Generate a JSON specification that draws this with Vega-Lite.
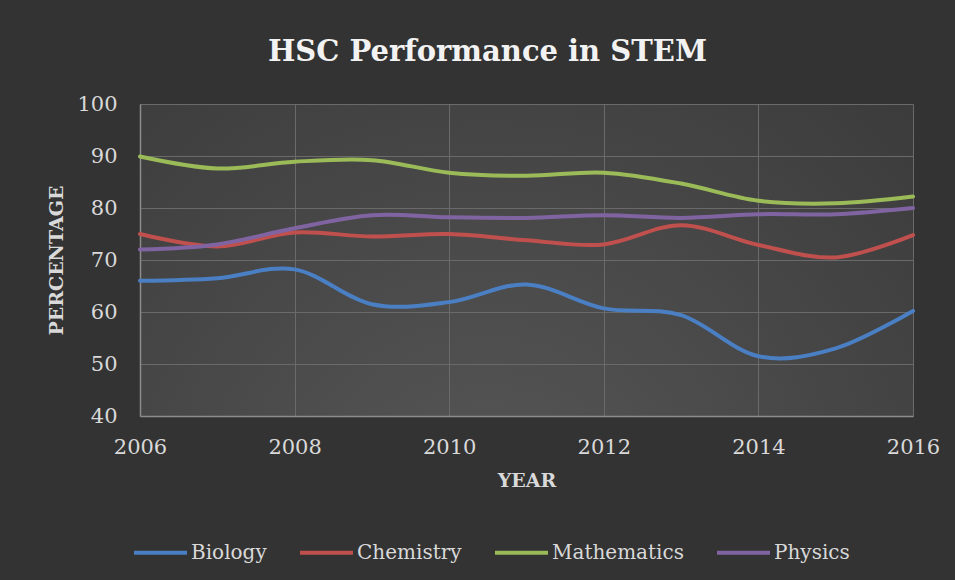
{
  "$schema": "https://vega.github.io/schema/vega-lite/v6.json",
  "width": 773,
  "height": 312,
  "autosize": {"type": "none"},
  "padding": {"left": 140, "top": 104, "right": 42, "bottom": 164},
  "background": "#333333",
  "title": {
    "text": "HSC Performance in STEM",
    "font": "DejaVu Serif",
    "fontSize": 29,
    "fontWeight": "bold",
    "color": "#f2f2f2",
    "anchor": "middle",
    "baseline": "alphabetic",
    "offset": 3,
    "dx": -39
  },
  "config": {
    "view": {
      "stroke": null,
      "fill": {
        "gradient": "radial",
        "x1": 0.45, "y1": 0.85, "r1": 0,
        "x2": 0.45, "y2": 0.85, "r2": 0.85,
        "stops": [
          {"offset": 0, "color": "#575757"},
          {"offset": 1, "color": "#393939"}
        ]
      }
    }
  },
  "data": {
    "values": [
      {"year": 2006, "subject": "Biology", "value": 66.0},
      {"year": 2007, "subject": "Biology", "value": 66.5},
      {"year": 2008, "subject": "Biology", "value": 68.2},
      {"year": 2009, "subject": "Biology", "value": 61.5},
      {"year": 2010, "subject": "Biology", "value": 61.9},
      {"year": 2011, "subject": "Biology", "value": 65.3},
      {"year": 2012, "subject": "Biology", "value": 60.7},
      {"year": 2013, "subject": "Biology", "value": 59.4},
      {"year": 2014, "subject": "Biology", "value": 51.5},
      {"year": 2015, "subject": "Biology", "value": 53.0},
      {"year": 2016, "subject": "Biology", "value": 60.2},
      {"year": 2006, "subject": "Chemistry", "value": 75.0},
      {"year": 2007, "subject": "Chemistry", "value": 72.6},
      {"year": 2008, "subject": "Chemistry", "value": 75.3},
      {"year": 2009, "subject": "Chemistry", "value": 74.5},
      {"year": 2010, "subject": "Chemistry", "value": 75.0},
      {"year": 2011, "subject": "Chemistry", "value": 73.8},
      {"year": 2012, "subject": "Chemistry", "value": 73.0},
      {"year": 2013, "subject": "Chemistry", "value": 76.7},
      {"year": 2014, "subject": "Chemistry", "value": 72.9},
      {"year": 2015, "subject": "Chemistry", "value": 70.5},
      {"year": 2016, "subject": "Chemistry", "value": 74.8},
      {"year": 2006, "subject": "Mathematics", "value": 89.9},
      {"year": 2007, "subject": "Mathematics", "value": 87.6},
      {"year": 2008, "subject": "Mathematics", "value": 88.9},
      {"year": 2009, "subject": "Mathematics", "value": 89.2},
      {"year": 2010, "subject": "Mathematics", "value": 86.8},
      {"year": 2011, "subject": "Mathematics", "value": 86.2},
      {"year": 2012, "subject": "Mathematics", "value": 86.8},
      {"year": 2013, "subject": "Mathematics", "value": 84.7},
      {"year": 2014, "subject": "Mathematics", "value": 81.4},
      {"year": 2015, "subject": "Mathematics", "value": 80.9},
      {"year": 2016, "subject": "Mathematics", "value": 82.2},
      {"year": 2006, "subject": "Physics", "value": 72.0},
      {"year": 2007, "subject": "Physics", "value": 73.0},
      {"year": 2008, "subject": "Physics", "value": 76.1},
      {"year": 2009, "subject": "Physics", "value": 78.6},
      {"year": 2010, "subject": "Physics", "value": 78.2},
      {"year": 2011, "subject": "Physics", "value": 78.1},
      {"year": 2012, "subject": "Physics", "value": 78.6},
      {"year": 2013, "subject": "Physics", "value": 78.1},
      {"year": 2014, "subject": "Physics", "value": 78.8},
      {"year": 2015, "subject": "Physics", "value": 78.8},
      {"year": 2016, "subject": "Physics", "value": 80.0}
    ]
  },
  "mark": {"type": "line", "interpolate": "cardinal", "strokeWidth": 4, "strokeCap": "round"},
  "encoding": {
    "x": {
      "field": "year",
      "type": "quantitative",
      "scale": {"domain": [2006, 2016], "nice": false, "zero": false},
      "axis": {
        "title": "YEAR",
        "values": [2006, 2008, 2010, 2012, 2014, 2016],
        "format": "d",
        "grid": true,
        "gridColor": "#6a6a6a",
        "gridWidth": 1,
        "ticks": false,
        "tickSize": 0,
        "domainColor": "#8c8c8c",
        "domainWidth": 1.5,
        "labelFont": "DejaVu Serif",
        "labelFontSize": 21,
        "labelColor": "#d9d9d9",
        "labelPadding": 20,
        "labelFlush": false,
        "titleFont": "DejaVu Serif",
        "titleFontSize": 19,
        "titleFontWeight": "bold",
        "titleColor": "#d9d9d9",
        "titlePadding": 14
      }
    },
    "y": {
      "field": "value",
      "type": "quantitative",
      "scale": {"domain": [40, 100], "nice": false, "zero": false},
      "axis": {
        "title": "PERCENTAGE",
        "values": [40, 50, 60, 70, 80, 90, 100],
        "grid": true,
        "gridColor": "#6a6a6a",
        "gridWidth": 1,
        "ticks": false,
        "tickSize": 0,
        "domainColor": "#8c8c8c",
        "domainWidth": 1.5,
        "labelFont": "DejaVu Serif",
        "labelFontSize": 21,
        "labelColor": "#d9d9d9",
        "labelPadding": 23,
        "titleFont": "DejaVu Serif",
        "titleFontSize": 19,
        "titleFontWeight": "bold",
        "titleColor": "#d9d9d9",
        "titlePadding": 10
      }
    },
    "color": {
      "field": "subject",
      "type": "nominal",
      "scale": {
        "domain": ["Biology", "Chemistry", "Mathematics", "Physics"],
        "range": ["#4a7fc4", "#c0504d", "#9bbb59", "#8064a2"]
      },
      "legend": {
        "title": null,
        "orient": "none",
        "direction": "horizontal",
        "legendX": -8,
        "legendY": 420,
        "symbolType": "stroke",
        "symbolSize": 2809,
        "symbolStrokeWidth": 4,
        "labelFont": "DejaVu Serif",
        "labelFontSize": 20,
        "labelColor": "#d9d9d9",
        "labelOffset": 2,
        "columnPadding": 25
      }
    }
  }
}
